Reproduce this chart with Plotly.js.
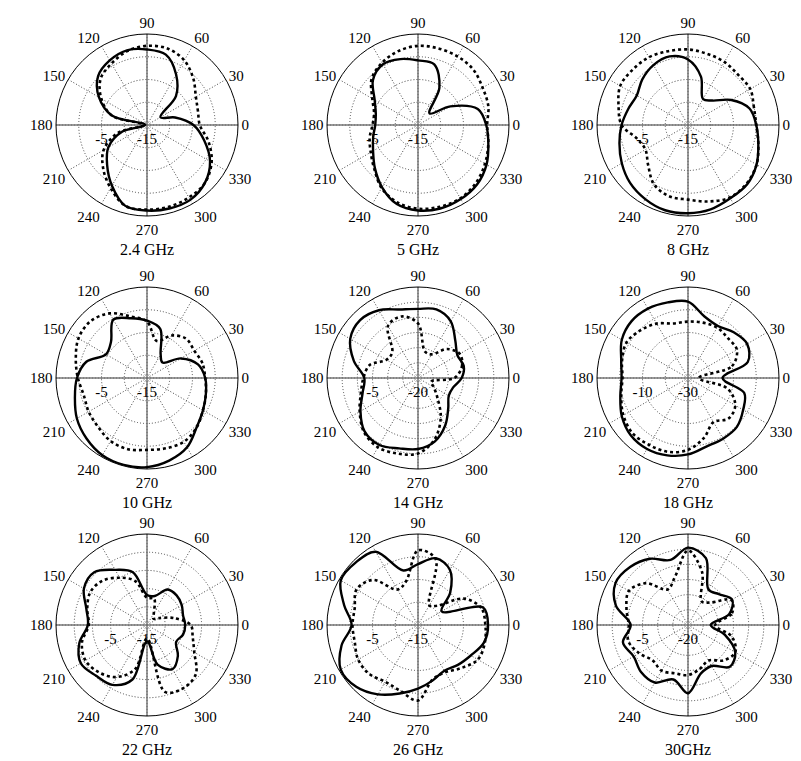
<!DOCTYPE html>
<html><head><meta charset="utf-8">
<script src="https://cdn.plot.ly/plotly-3.0.1.min.js"></script>
<style>body{margin:0;background:#fff}#chart{width:801px;height:761px}</style>
</head><body><div id="chart"></div>
<script>
// Angles (degrees) shared by every pattern
const angles = [0,15,30,45,60,75,90,105,120,135,150,165,180,195,210,225,240,255,270,285,300,315,330,345];

// Panel titles and radial scales (dB)
const titles = ['2.4 GHz','5 GHz','8 GHz','10 GHz','14 GHz','18 GHz','22 GHz','26 GHz','30GHz'];
const rMin = [-15,-15,-15,-15,-20,-30,-15,-15,-20];
const rMax = [5,5,5,5,10,10,10,5,10];
const rStep = [5,5,5,5,5,10,5,5,5];
const ringLabel = [-5,-5,-5,-5,-5,-10,-5,-5,-5];
const angTicks = [0,30,60,90,120,150,180,210,240,270,300,330];

// Solid / dotted gain patterns (dB)
const g2_4Solid  = [-4.8,-8.6,-11.6,-6,-2.2,1,1.6,2,1.4,0.2,-2.8,-7,-14.6,-9.4,-5.2,-2.6,0.4,3.4,3.8,4,4,3,1,-2];
const g2_4Dotted = [-3.4,-3.4,-2.6,-0.6,1.4,2.4,2.4,1.8,0.6,-0.6,-3.4,-7,-14.2,-8.4,-4,-1.4,1,3.4,3.6,3.6,3.4,3,1.4,-1];
const g5Solid    = [0,-1.4,-6.8,-11.4,-5.6,-1.2,-0.8,0,0.4,-1,-4,-5.4,-5.6,-4.8,-3.6,-1.6,0.8,3,3.8,4,3.8,3.4,2.4,1];
const g5Dotted   = [0.2,1,1.4,2.2,2.4,2.4,2.4,1.8,0.8,-0.6,-3.4,-5,-5,-4,-3,-1.4,1,2.6,3.4,3.6,3.6,3,2,1];
const g8Solid    = [0,-1,-4,-7.4,-8.4,-4,-0.6,0.6,0.2,-0.8,-2,-1.4,-0.4,0.6,1.8,3,3.8,4.4,4.4,4.2,3.6,3.4,2.4,1];
const g8Dotted   = [0,0,0.8,0.6,1,1.2,1.6,1.8,2.2,2.2,2.2,0.8,-0.4,-3.4,-4.2,-2.6,0,1.2,1.4,2.4,3.4,3.2,2.4,1];
const g10Solid   = [-2.2,-3.4,-6.4,-10.2,-9,-3.8,-2.4,-1.4,-0.2,-3.8,-4.6,-1.2,0.4,1.4,2.8,3.8,4.6,4.8,4.6,3.8,2.6,0.4,-0.8,-1.6];
const g10Dotted  = [-2.2,-2.4,-3,-2.8,-4.2,-6.6,-2.6,-1,1.4,2.6,2.4,1.2,0.2,-0.6,-0.2,0.2,1,1.2,0.8,1,1.2,0.4,-0.8,-1.6];
const g14Solid   = [-5.6,-4.4,-5,-2.6,1.6,3.4,2.8,3.4,5.8,7,5.8,1.9,-2.3,-1.1,1.9,4.9,5.5,4,3.4,1.6,-2,-5.9,-8.3,-8];
const g14Dotted  = [-8,-5,-4.1,-6.5,-11,-11,-2,1,-0.2,-8,-8,-3.5,-2,-0.5,2.2,5.2,6.4,5.8,4.9,1,-5,-11,-14,-15.5];
const g18Solid   = [-14.8,-2.8,0,-1.6,-3.6,-2,3.6,4.4,5.2,5.2,3.6,0.4,-0.8,0.8,3.6,5.6,6,5.2,3.6,1.2,0.8,0.4,-2,-4.4];
const g18Dotted  = [-25.2,-10,-5.2,-5.2,-4.4,-4.8,-5.2,-5.2,-2.4,-0.4,1.2,0,-1.2,0.4,2.8,4.4,4,3.6,1.6,-2.8,-7.6,-4.8,-6,-12];
const g22Solid   = [-4.5,-4.75,-4,-3.5,-3.75,-6.75,-6.75,0,2.5,5.5,5,2.25,1.25,4.25,6,4.75,4,0.5,-10.5,-3.75,-1,-3,-5.75,-4.75];
const g22Dotted  = [-3,-7.5,-11.25,-12.5,-11.25,-7.5,-7.5,-2.5,0,2.25,3,2,1,3.5,4.5,3.5,1.5,-2.5,-11.25,4,5,4,0,-2];
const g26Solid   = [0.4,-0.2,-9,-5,-1,0.2,-1.6,-2.6,3.6,4.4,4.6,1.8,-0.4,2.4,4.6,4.2,2.6,0.6,-1,-2.4,-3.4,-2.6,-1.6,0];
const g26Dotted  = [-0.2,-0.6,-3.4,-9,-10,0,1.4,-5,-6,-1,0.6,-0.6,-0.6,-0.6,0.2,0.2,-0.6,0,1.6,-2.6,-3,-1.6,0.2,0.2];
const g30Solid   = [-12.5,-5.9,-3.2,-5.6,-6.5,2.8,5.5,2.2,5.2,7,7.6,4.6,-1.1,2.2,0.7,1.9,1.9,-1.4,2.5,-3.5,-4.4,-0.5,-2,-7.4];
const g30Dotted  = [-11,-5,-3.5,-9.5,-11,-2,4.6,-3.5,-6.5,-0.5,2.5,1,-0.5,0.4,-1.4,-3.5,-2.6,-3.5,-3.5,-5,-6.5,-3.5,-2,-5];

const solidSets  = [g2_4Solid,g5Solid,g8Solid,g10Solid,g14Solid,g18Solid,g22Solid,g26Solid,g30Solid];
const dottedSets = [g2_4Dotted,g5Dotted,g8Dotted,g10Dotted,g14Dotted,g18Dotted,g22Dotted,g26Dotted,g30Dotted];

const W = 801, H = 761, R = 91;
const cx = [147, 418, 688], cy = [125, 378, 625];
const FONT = '"Liberation Serif", "DejaVu Serif", Times, serif';

const traces = [];
const layout = {
  width: W, height: H, margin: {l:0,r:0,t:0,b:0},
  paper_bgcolor: '#fff', plot_bgcolor: '#fff', showlegend: false,
  font: {family: FONT, size: 15, color: '#000'},
  annotations: [], dragmode: false
};

const closed = arr => arr.concat([arr[0]]);
const thetaClosed = angles.concat([360]);

for (let i = 0; i < 9; i++) {
  const key = i === 0 ? 'polar' : 'polar' + (i + 1);
  const c = i % 3, rw = Math.floor(i / 3);
  // axis cross lines
  traces.push({type:'scatterpolar', subplot:key, r:[rMax[i], rMin[i], rMax[i]], theta:[0,0,180],
    mode:'lines', line:{color:'#777', width:1.5}, hoverinfo:'skip'});
  traces.push({type:'scatterpolar', subplot:key, r:[rMax[i], rMin[i], rMax[i]], theta:[90,90,270],
    mode:'lines', line:{color:'#777', width:1.5}, hoverinfo:'skip'});
  traces.push({type:'scatterpolar', subplot:key, r:closed(dottedSets[i]), theta:thetaClosed,
    mode:'lines', line:{color:'#000', width:2.6, dash:'dot', shape:'spline', smoothing:1}});
  traces.push({type:'scatterpolar', subplot:key, r:closed(solidSets[i]), theta:thetaClosed,
    mode:'lines', line:{color:'#000', width:2.4, shape:'spline', smoothing:1}});

  const tv = [], tt = [];
  for (let v = rMin[i]; v < rMax[i]; v += rStep[i]) {
    tv.push(v);
    tt.push(v === rMin[i] || v === ringLabel[i] ? String(v) : '');
  }
  layout[key] = {
    domain: {x: [(cx[c] - R) / W, (cx[c] + R) / W], y: [1 - (cy[rw] + R) / H, 1 - (cy[rw] - R) / H]},
    bgcolor: 'rgba(0,0,0,0)',
    radialaxis: {range: [rMin[i], rMax[i]], tickmode: 'array', tickvals: tv, ticktext: tt,
      angle: 180, side: 'counterclockwise', tickangle: 180, showline: false, ticks: '',
      showgrid: true, gridcolor: '#444', griddash: '1px,2px', gridwidth: 1,
      tickfont: {family: FONT, size: 15, color: '#000'}},
    angularaxis: {rotation: 0, direction: 'counterclockwise', tickmode: 'array', tickvals: angTicks,
      ticktext: angTicks.map(String), showline: true, linecolor: '#000', linewidth: 1,
      showgrid: true, gridcolor: '#444', griddash: '1px,2px', gridwidth: 1, ticks: '',
      tickfont: {family: FONT, size: 15, color: '#000'}}
  };
  layout.annotations.push({text: titles[i], x: cx[c] / W, y: 1 - (cy[rw] + 124) / H,
    xref: 'paper', yref: 'paper', showarrow: false, xanchor: 'center', yanchor: 'middle',
    font: {family: FONT, size: 16, color: '#000'}});
}

Plotly.newPlot('chart', traces, layout, {staticPlot: true, displayModeBar: false});
</script>
</body></html>
